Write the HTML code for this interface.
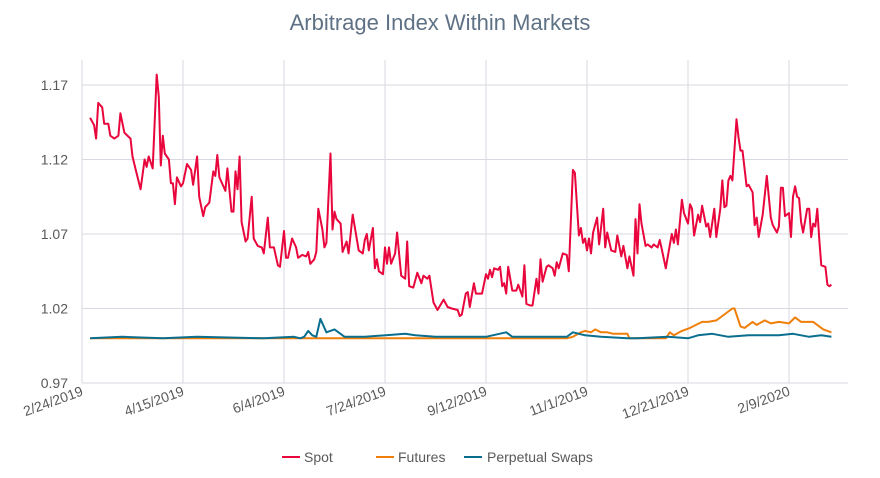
<!DOCTYPE html>
<html><head><meta charset="utf-8"><style>
body{margin:0;background:#fff;}
svg{display:block;font-family:"Liberation Sans",sans-serif;}
</style></head><body>
<svg id="chart" width="880" height="478">
<text x="440" y="30" text-anchor="middle" font-size="22" fill="#5f7285">Arbitrage Index Within Markets</text>
<g id="grid"></g>
<g id="yaxis"></g>
<g id="xaxis"></g>
<g id="series"></g>
<g>
<g><line x1="282" y1="457" x2="300" y2="457" stroke="#e8063c" stroke-width="2"/><text x="304" y="462" font-size="14" fill="#595959">Spot</text></g>
<g><line x1="376" y1="457" x2="394" y2="457" stroke="#f07f09" stroke-width="2"/><text x="398" y="462" font-size="14" fill="#595959">Futures</text></g>
<g><line x1="464" y1="457" x2="482" y2="457" stroke="#0a6e8f" stroke-width="2"/><text x="487" y="462" font-size="14" fill="#595959">Perpetual Swaps</text></g>
</g>
</svg>
<script>
const yTicks=[0.97,1.02,1.07,1.12,1.17];
const xTickDays=[0,50,100,150,200,250,300,350];
const xTickLabels=["2/24/2019","4/15/2019","6/4/2019","7/24/2019","9/12/2019","11/1/2019","12/21/2019","2/9/2020"];
const spotDays=[4,6,7,8,10,11,13,14,16,18,19,21,24,25,27,29,31,32,33,35,37,38,39,40,41,43,44,45,46,47,49,50,52,54,55,57,58,60,61,63,65,66,67,68,71,72,74,75,76,77,78,79,81,82,84,85,87,89,90,92,93,95,97,98,100,101,102,104,106,107,109,111,112,113,115,116,117,119,120,121,123,124,125,126,128,129,131,132,134,137,139,140,141,142,144,145,146,147,149,150,151,152,153,155,156,158,160,161,162,164,166,168,169,171,172,174,176,179,181,183,186,187,188,190,191,192,194,195,198,200,201,202,203,204,206,207,208,209,210,211,213,215,216,218,219,220,222,223,225,226,227,228,230,231,233,234,235,236,238,240,241,243,244,246,247,248,249,250,251,252,253,255,256,258,259,260,262,264,265,267,268,270,271,273,274,275,276,277,279,280,282,283,285,286,287,289,290,292,293,294,295,297,298,300,301,302,303,305,306,307,309,310,311,313,314,316,317,318,319,320,321,322,324,325,326,327,329,330,332,333,334,335,337,339,341,342,344,345,346,347,348,350,351,352,353,354,355,356,357,359,360,361,362,363,364,365,366,368,369,370,371];
const spotVals=[1.148,1.143,1.134,1.158,1.155,1.144,1.144,1.136,1.134,1.136,1.151,1.138,1.134,1.122,1.111,1.100,1.120,1.115,1.122,1.114,1.177,1.162,1.116,1.136,1.124,1.120,1.104,1.104,1.090,1.108,1.102,1.104,1.117,1.113,1.103,1.122,1.095,1.082,1.088,1.091,1.112,1.109,1.123,1.108,1.099,1.114,1.085,1.085,1.112,1.100,1.122,1.078,1.065,1.067,1.095,1.067,1.062,1.061,1.057,1.081,1.061,1.061,1.049,1.048,1.072,1.054,1.054,1.067,1.061,1.054,1.056,1.055,1.058,1.050,1.053,1.058,1.087,1.073,1.061,1.064,1.124,1.073,1.085,1.080,1.077,1.058,1.065,1.057,1.083,1.059,1.057,1.066,1.070,1.059,1.074,1.047,1.053,1.045,1.043,1.061,1.050,1.061,1.050,1.057,1.071,1.042,1.040,1.065,1.035,1.034,1.044,1.037,1.042,1.040,1.042,1.024,1.019,1.026,1.021,1.020,1.019,1.015,1.016,1.030,1.031,1.021,1.037,1.030,1.030,1.043,1.040,1.046,1.041,1.047,1.046,1.048,1.035,1.037,1.030,1.048,1.032,1.032,1.036,1.028,1.049,1.023,1.022,1.022,1.040,1.030,1.053,1.038,1.048,1.049,1.047,1.042,1.051,1.047,1.057,1.056,1.045,1.113,1.111,1.069,1.074,1.064,1.067,1.059,1.067,1.057,1.071,1.081,1.063,1.087,1.061,1.071,1.059,1.058,1.069,1.055,1.062,1.047,1.055,1.042,1.080,1.057,1.090,1.077,1.062,1.063,1.061,1.063,1.061,1.066,1.060,1.047,1.055,1.070,1.064,1.073,1.063,1.093,1.084,1.077,1.090,1.087,1.069,1.083,1.078,1.089,1.075,1.077,1.068,1.087,1.068,1.087,1.106,1.088,1.089,1.106,1.109,1.106,1.147,1.135,1.126,1.126,1.102,1.103,1.098,1.076,1.081,1.068,1.083,1.109,1.081,1.076,1.071,1.075,1.101,1.101,1.082,1.084,1.068,1.095,1.102,1.095,1.094,1.078,1.071,1.087,1.087,1.068,1.077,1.075,1.087,1.066,1.049,1.048,1.036,1.035,1.036];
const futDays=[4,30,60,100,150,200,240,243,247,249,252,254,257,260,263,266,270,271,289,291,293,297,301,307,310,314,317,322,323,326,328,332,334,338,341,345,350,353,356,362,367,371];
const futVals=[1.000,1.000,1.000,1.000,1.000,1.000,1.000,1.001,1.004,1.005,1.004,1.006,1.004,1.004,1.003,1.003,1.003,1.000,1.000,1.004,1.002,1.005,1.007,1.011,1.011,1.012,1.015,1.020,1.020,1.008,1.007,1.011,1.009,1.012,1.010,1.011,1.010,1.014,1.011,1.011,1.006,1.004];
const swapDays=[4,20,40,57,90,105,108,110,112,114,116,118,121,125,130,140,160,165,175,200,210,213,230,240,243,249,257,270,275,290,300,305,312,320,330,345,352,360,366,371];
const swapVals=[1.000,1.001,1.000,1.001,1.000,1.001,1.000,1.001,1.005,1.002,1.001,1.013,1.004,1.006,1.001,1.001,1.003,1.002,1.001,1.001,1.004,1.001,1.001,1.001,1.004,1.002,1.001,1.000,1.000,1.001,1.000,1.002,1.003,1.001,1.002,1.002,1.003,1.001,1.002,1.001];

const NS="http://www.w3.org/2000/svg";
const X0=82,PX_PER_DAY=2.02,Y_TOP=85,Y_BOT=383,VMIN=0.97,VMAX=1.17;
function xs(d){return X0+d*PX_PER_DAY;}
function ys(v){return Y_BOT-(v-VMIN)/(VMAX-VMIN)*(Y_BOT-Y_TOP);}
function mk(tag,attrs,parent){const e=document.createElementNS(NS,tag);for(const k in attrs)e.setAttribute(k,attrs[k]);parent.appendChild(e);return e;}
const grid=document.getElementById('grid'),yax=document.getElementById('yaxis'),xax=document.getElementById('xaxis'),ser=document.getElementById('series');
yTicks.forEach(v=>{
  const l=mk('line',{x1:X0,x2:848,y1:ys(v),y2:ys(v),stroke:'#d9d9e1','stroke-width':1},grid);
  
  
  const t=mk('text',{x:68,y:ys(v)+5,'text-anchor':'end','font-size':14,fill:'#595959'},yax);
  t.textContent=v.toFixed(2);
  
  
});
mk('line',{x1:X0,x2:X0,y1:Y_TOP-25,y2:Y_BOT,stroke:'#d9d9e1','stroke-width':1},grid);
xTickDays.forEach((d,i)=>{
  const l=mk('line',{x1:xs(d),x2:xs(d),y1:Y_TOP-25,y2:Y_BOT,stroke:'#d9d9e1','stroke-width':1},grid);
  
  
  const t=mk('text',{x:xs(d)+2,y:Y_BOT+12,'text-anchor':'end','font-size':14,fill:'#595959',transform:`rotate(-20 ${xs(d)+2} ${Y_BOT+12})`},xax);
  t.textContent=xTickLabels[i];
  
  
});
function line(days,vals,color,name){
  const d=days.map((dd,i)=>(i?'L':'M')+xs(dd).toFixed(1)+','+ys(vals[i]).toFixed(1)).join('');
  const p=mk('path',{d:d,fill:'none',stroke:color,'stroke-width':2,'stroke-linejoin':'round'},ser);
  
  
}
line(futDays,futVals,'#f07f09','futures-line');
line(swapDays,swapVals,'#0a6e8f','perpetual-swaps-line');
line(spotDays,spotVals,'#e8063c','spot-line');
</script>
</body></html>
